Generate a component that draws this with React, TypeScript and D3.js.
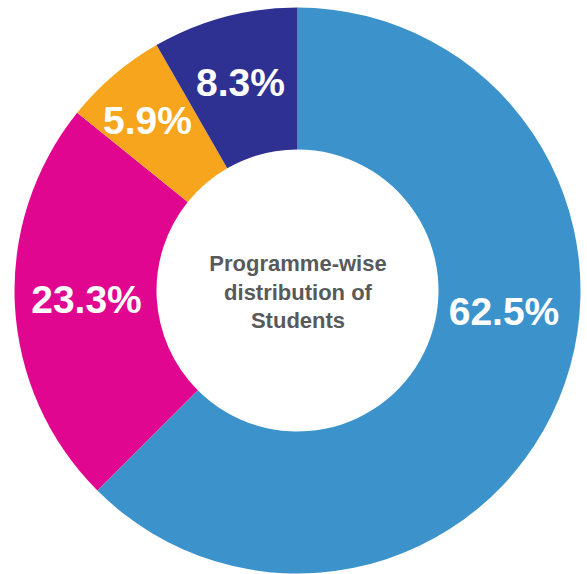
import React from "react";
import * as d3 from "d3";

const categories = ["Programme A", "Programme B", "Programme C", "Programme D"];
const values = [62.5, 23.3, 5.9, 8.3];
const labels = ["62.5%", "23.3%", "5.9%", "8.3%"];
const colors = ["#3c93cb", "#e1068f", "#f8a51e", "#2f3192"];
const centerLines = ["Programme-wise", "distribution of", "Students"];
// label anchor positions (layout), relative to the chart center
const labelOffsets: [number, number][] = [
  [206.5, 34.5],
  [-211, 22.5],
  [-150, -156.5],
  [-57, -194.5],
];

export default function App() {
  const W = 587;
  const H = 574;
  const cx = 297.5;
  const cy = 290.5;
  const outerR = 283;
  const innerR = 141;

  const pie = d3.pie<number>().sort(null).value((d) => d)(values);
  const arc = d3.arc<d3.PieArcDatum<number>>().innerRadius(innerR).outerRadius(outerR);

  return (
    <svg
      width={W}
      height={H}
      style={{ position: "absolute", left: 0, top: 0 }}
      fontFamily="'Liberation Sans', Arial, sans-serif"
    >
      <g transform={`translate(${cx},${cy})`}>
        {pie.map((p, i) => (
          <path key={categories[i]} d={arc(p) || ""} fill={colors[i]} />
        ))}
        {pie.map((p, i) => (
          <text
            key={"l" + i}
            x={labelOffsets[i][0]}
            y={labelOffsets[i][1]}
            textAnchor="middle"
            fill="#ffffff"
            fontWeight="bold"
            fontSize={39}
          >
            {labels[i]}
          </text>
        ))}
        {centerLines.map((t, i) => (
          <text
            key={"c" + i}
            x={0.5}
            y={-19.5 + i * 28.5}
            textAnchor="middle"
            fill="#58595b"
            fontWeight="bold"
            fontSize={22}
          >
            {t}
          </text>
        ))}
      </g>
    </svg>
  );
}
